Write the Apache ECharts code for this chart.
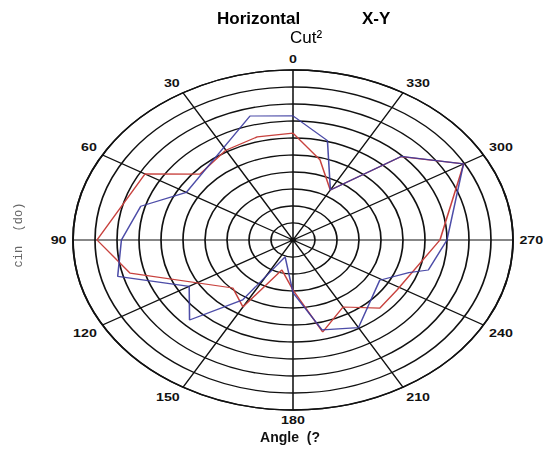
<!DOCTYPE html>
<html>
<head>
<meta charset="utf-8">
<script src="https://cdn.jsdelivr.net/npm/echarts@6/dist/echarts.min.js"></script>
<style>
  html, body { margin: 0; padding: 0; background: #fff; overflow: hidden; width: 543px; height: 451px; }
  #polar { position: absolute; left: 0; top: 0; width: 543px; height: 451px;
           transform: scaleX(1.294); transform-origin: 293px 240px; }
  #text { position: absolute; left: 0; top: 0; width: 543px; height: 451px; pointer-events: none; }
</style>
</head>
<body>
<div id="polar"></div>
<div id="text"></div>
<script>
// ---- data ----
const angleTicks = [0, 30, 60, 90, 120, 150, 180, 210, 240, 270, 300, 330];
const angleTickLabels = ['0', '30', '60', '90', '120', '150', '180', '210', '240', '270', '300', '330'];

const redAngles = [0, 15, 30, 47.5, 60, 90, 104.7, 135.9, 150, 164, 180, 194, 210, 224.6, 238, 270, 300, 315, 330, 345.4, 360];
const redRadii  = [6.29, 6.28, 6.1, 5.74, 7.77, 8.91, 7.66, 3.93, 4.55, 1.83, 2.94, 5.58, 4.55, 5.62, 5.57, 6.68, 8.96, 6.93, 3.39, 4.87, 6.29];

const blueAngles = [0, 15, 60, 74, 90, 105, 120, 135, 147, 160, 180, 194, 210, 239, 250, 254, 270, 300, 315, 330, 345, 360];
const blueRadii  = [7.3, 7.55, 5.6, 7.2, 7.8, 8.25, 5.45, 6.65, 4.2, 1.05, 3.1, 5.45, 5.95, 4.6, 5.6, 6.4, 7.0, 8.95, 6.95, 3.4, 6.05, 7.3];

const titleMain = 'Horizontal';
const titleSide = 'X-Y';
const titleSub = 'Cut²';
const xName = 'Angle  (?';
const yName = 'cin  (do)';

// ---- polar chart (stretched horizontally into an ellipse) ----
function pairs(rs, as) { return rs.map((r, i) => [r, as[i]]); }

const polarChart = echarts.init(document.getElementById('polar'), null, { renderer: 'svg' });
polarChart.setOption({
  animation: false,
  backgroundColor: 'transparent',
  polar: { center: [293, 240], radius: 170 },
  angleAxis: {
    type: 'value', min: 0, max: 360, interval: 30,
    startAngle: 90, clockwise: false,
    axisLine: { show: true, lineStyle: { color: '#111', width: 1.4 } },
    axisTick: { show: false },
    axisLabel: {
      show: true, margin: 5, color: '#111', fontSize: 11, fontWeight: 'bold',
      fontFamily: 'Liberation Sans, Arial, sans-serif',
      formatter: function (v) { const i = angleTicks.indexOf(v); return i >= 0 ? angleTickLabels[i] : ''; }
    },
    splitLine: { show: true, lineStyle: { color: '#111', width: 1.2 } }
  },
  radiusAxis: {
    type: 'value', min: 0, max: 10, interval: 1,
    axisLine: { show: false }, axisTick: { show: false }, axisLabel: { show: false },
    splitLine: { show: true, lineStyle: { color: '#111', width: 1.3 } }
  },
  series: [
    {
      type: 'line', coordinateSystem: 'polar', symbol: 'none',
      data: pairs(redRadii, redAngles),
      lineStyle: { color: '#c8423e', width: 1.2 }, z: 3
    },
    {
      type: 'line', coordinateSystem: 'polar', symbol: 'none',
      data: pairs(blueRadii, blueAngles),
      lineStyle: { color: '#3a3a9e', width: 1.2, opacity: 0.9 }, z: 4
    }
  ]
});

// ---- texts (not stretched) ----
const textChart = echarts.init(document.getElementById('text'));
textChart.setOption({
  animation: false,
  backgroundColor: 'transparent',
  title: [
    { text: titleMain, left: 217, top: 11, padding: 0,
      textStyle: { fontSize: 17, fontWeight: 'bold', color: '#000', fontFamily: 'Liberation Sans, Arial, sans-serif' } },
    { text: titleSide, left: 362, top: 11, padding: 0,
      textStyle: { fontSize: 17, fontWeight: 'bold', color: '#000', fontFamily: 'Liberation Sans, Arial, sans-serif' } },
    { text: titleSub, left: 290, top: 30, padding: 0,
      textStyle: { fontSize: 17, fontWeight: 'normal', color: '#000', fontFamily: 'Liberation Sans, Arial, sans-serif' } }
  ],
  graphic: [
    { type: 'text', x: 290, y: 438,
      style: { text: xName, fill: '#111', font: 'bold 14px "Liberation Sans", Arial, sans-serif',
               textAlign: 'center', textVerticalAlign: 'middle', verticalAlign: 'middle' } },
    { type: 'text', x: 19, y: 235, rotation: Math.PI / 2,
      style: { text: yName, fill: '#666', font: '12px "Liberation Mono", "DejaVu Sans Mono", monospace',
               textAlign: 'center', textVerticalAlign: 'middle', verticalAlign: 'middle' } }
  ]
});
</script>
</body>
</html>
